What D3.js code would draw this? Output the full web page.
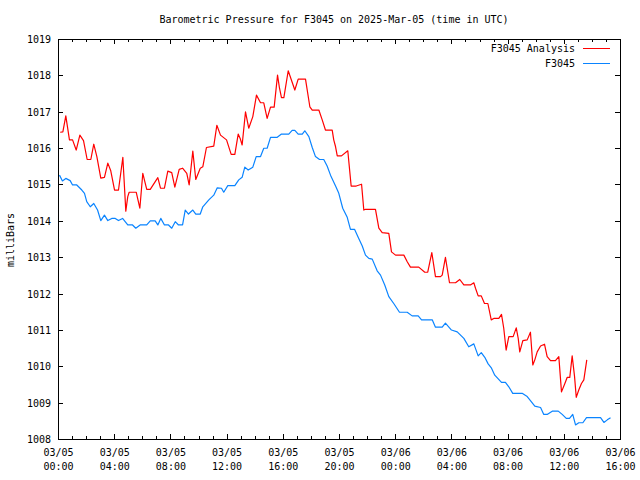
<!DOCTYPE html>
<html><head><meta charset="utf-8">
<script src="https://cdn.jsdelivr.net/npm/d3@7"></script>
<style>
html,body{margin:0;padding:0;background:#fff;}
svg{display:block;}
text{font-family:"DejaVu Sans Mono","Liberation Mono",monospace;font-size:10px;fill:#000;}
</style>
</head><body>
<svg id="chart" width="640" height="480"></svg>
<script>
const titleText = "Barometric Pressure for F3045 on 2025-Mar-05 (time in UTC)";
const yAxisLabel = "milliBars";
const seriesNames = ["F3045 Analysis", "F3045"];
const seriesColors = ["#ff0000", "#0a84ff"];
const startTime = Date.UTC(2025, 2, 5, 0, 0);
const endTime = Date.UTC(2025, 2, 6, 16, 0);
const yTickValues = [1008, 1009, 1010, 1011, 1012, 1013, 1014, 1015, 1016, 1017, 1018, 1019];

// hours since 2025-03-05 00:00 UTC
const analysisHours = [0.12,0.31,0.52,0.78,1.00,1.26,1.52,1.78,2.04,2.30,2.51,2.73,3.01,3.27,3.51,3.72,3.99,4.27,4.58,4.79,4.93,5.03,5.53,5.79,6.00,6.28,6.53,7.07,7.26,7.54,7.78,8.06,8.28,8.59,8.83,9.13,9.30,9.56,9.77,10.09,10.27,10.53,11.05,11.27,11.53,11.96,12.29,12.55,12.79,12.93,13.07,13.31,13.54,13.83,14.09,14.38,14.61,14.85,15.09,15.35,15.59,15.73,15.87,16.04,16.35,16.82,17.06,17.58,17.89,18.06,18.53,18.77,19.00,19.48,19.59,19.72,19.84,20.14,20.59,20.83,21.19,21.57,21.73,21.85,22.56,22.80,23.04,23.51,23.70,23.99,24.58,24.82,25.05,25.64,26.07,26.28,26.57,26.83,27.19,27.31,27.54,27.83,28.26,28.56,28.85,29.32,29.56,29.68,29.87,30.09,30.32,30.56,30.80,30.98,31.34,31.53,31.69,31.86,32.05,32.36,32.58,32.72,32.83,33.05,33.36,33.59,33.76,33.90,34.07,34.31,34.59,34.78,35.02,35.37,35.61,35.80,36.04,36.21,36.39,36.56,36.73,36.85,37.03,37.22,37.39,37.60];
const analysisValues = [1016.45,1016.46,1016.90,1016.24,1016.24,1015.96,1016.37,1016.22,1015.70,1015.70,1016.12,1015.78,1015.19,1015.21,1015.60,1015.39,1014.86,1014.86,1015.76,1014.28,1014.68,1014.80,1014.80,1014.36,1015.32,1014.88,1014.88,1015.20,1014.91,1014.91,1015.38,1015.34,1014.94,1015.43,1015.46,1015.32,1015.00,1015.93,1015.15,1015.46,1015.50,1016.03,1016.07,1016.64,1016.37,1016.24,1015.84,1015.84,1016.40,1016.28,1016.10,1017.01,1016.56,1016.88,1017.47,1017.26,1017.26,1016.83,1017.14,1017.14,1018.02,1017.66,1017.40,1017.40,1018.14,1017.61,1017.91,1017.91,1017.15,1017.06,1017.06,1016.79,1016.51,1016.51,1016.24,1016.05,1015.80,1015.80,1015.94,1014.97,1014.97,1015.02,1014.31,1014.33,1014.33,1013.81,1013.69,1013.67,1013.16,1013.07,1013.07,1012.89,1012.74,1012.74,1012.60,1012.60,1013.14,1012.48,1012.48,1012.52,1013.01,1012.31,1012.31,1012.40,1012.25,1012.25,1012.31,1012.16,1011.95,1011.95,1011.74,1011.74,1011.29,1011.33,1011.33,1011.44,1011.06,1010.46,1010.83,1010.83,1011.07,1010.78,1010.41,1010.72,1010.74,1010.95,1010.05,1010.19,1010.41,1010.57,1010.62,1010.28,1010.17,1010.17,1010.28,1009.31,1009.54,1009.71,1009.71,1010.30,1009.73,1009.16,1009.36,1009.54,1009.64,1010.19];

const stationHours = [0.07,0.28,0.52,0.83,1.00,1.30,1.66,1.85,2.01,2.26,2.51,2.78,3.01,3.27,3.51,3.79,4.04,4.27,4.56,4.93,5.27,5.50,5.81,6.28,6.53,6.88,7.07,7.28,7.54,7.83,8.06,8.31,8.54,8.83,9.02,9.25,9.56,9.77,10.09,10.27,10.70,11.05,11.30,11.60,11.76,12.05,12.55,12.83,13.07,13.26,13.50,13.83,14.07,14.38,14.61,14.85,15.09,15.57,15.87,16.39,16.63,16.82,17.06,17.35,17.53,17.82,18.06,18.29,18.58,18.88,19.12,19.36,19.72,19.95,20.23,20.55,20.78,21.07,21.37,21.62,21.85,22.09,22.33,22.68,22.92,23.22,23.51,23.86,24.27,24.82,25.17,25.60,25.84,26.60,26.83,27.31,27.54,27.97,28.38,28.85,29.20,29.56,29.87,30.09,30.34,30.58,30.82,31.05,31.53,31.81,32.05,32.33,33.00,33.36,33.59,33.90,34.31,34.54,34.78,35.14,35.57,35.85,36.14,36.37,36.60,36.80,37.03,37.32,37.58,38.58,38.82,39.06,39.29];
const stationValues = [1015.27,1015.11,1015.18,1015.12,1015.00,1015.00,1014.86,1014.77,1014.54,1014.40,1014.49,1014.31,1014.02,1014.17,1014.02,1014.08,1014.08,1014.02,1014.08,1013.90,1013.90,1013.81,1013.90,1013.90,1014.01,1014.01,1013.90,1014.08,1013.90,1013.90,1013.81,1013.99,1013.90,1013.90,1014.31,1014.20,1014.31,1014.20,1014.20,1014.40,1014.59,1014.72,1014.92,1014.91,1014.80,1014.98,1014.98,1015.14,1015.21,1015.49,1015.41,1015.49,1015.78,1015.78,1016.01,1016.01,1016.31,1016.31,1016.40,1016.40,1016.50,1016.50,1016.40,1016.40,1016.49,1016.33,1016.03,1015.78,1015.70,1015.70,1015.52,1015.27,1014.97,1014.77,1014.36,1014.11,1013.78,1013.78,1013.53,1013.32,1013.07,1012.98,1012.96,1012.64,1012.52,1012.25,1011.93,1011.74,1011.50,1011.50,1011.40,1011.40,1011.29,1011.29,1011.09,1011.09,1011.20,1011.01,1010.96,1010.78,1010.55,1010.63,1010.30,1010.39,1010.26,1010.08,1009.96,1009.77,1009.57,1009.57,1009.45,1009.27,1009.27,1009.18,1009.07,1008.92,1008.88,1008.69,1008.69,1008.78,1008.78,1008.69,1008.58,1008.58,1008.69,1008.40,1008.46,1008.46,1008.60,1008.60,1008.47,1008.54,1008.60];

(function () {
const svg = d3.select("#chart");
const plotLeft = 58, plotRight = 620, plotTop = 39, plotBottom = 439;

const x = d3.scaleUtc().domain([new Date(startTime), new Date(endTime)]).range([plotLeft, plotRight]);
const y = d3.scaleLinear().domain([1008, 1019]).range([plotBottom, plotTop]);

const toDate = h => new Date(startTime + h * 3600000);
const series = [
  analysisHours.map((h, i) => ({t: toDate(h), v: analysisValues[i]})),
  stationHours.map((h, i) => ({t: toDate(h), v: stationValues[i]}))
];

// Title
svg.append("text").attr("x", 334).attr("y", 23).attr("text-anchor", "middle").text(titleText);

// Y axis label
svg.append("text").attr("transform", "translate(14,240) rotate(-90)")
  .attr("text-anchor", "middle").text(yAxisLabel);

function styleAxis(g) {
  g.select(".domain").remove();
  g.selectAll("line").attr("stroke", "#000").attr("shape-rendering", "crispEdges");
  g.selectAll("text").remove();
}

const hourMinor = d3.utcHour.every(1);
const hourMajor = d3.utcHour.every(4);

svg.append("g").attr("transform", `translate(0,${plotBottom})`)
  .call(d3.axisBottom(x).ticks(hourMinor).tickSize(-3).tickSizeOuter(0)).call(styleAxis);
svg.append("g").attr("transform", `translate(0,${plotBottom})`)
  .call(d3.axisBottom(x).ticks(hourMajor).tickSize(-5).tickSizeOuter(0)).call(styleAxis);
svg.append("g").attr("transform", `translate(0,${plotTop})`)
  .call(d3.axisTop(x).ticks(hourMinor).tickSize(-3).tickSizeOuter(0)).call(styleAxis);
svg.append("g").attr("transform", `translate(0,${plotTop})`)
  .call(d3.axisTop(x).ticks(hourMajor).tickSize(-5).tickSizeOuter(0)).call(styleAxis);
svg.append("g").attr("transform", `translate(${plotLeft},0)`)
  .call(d3.axisLeft(y).tickValues(yTickValues).tickSize(-5).tickSizeOuter(0)).call(styleAxis);
svg.append("g").attr("transform", `translate(${plotRight},0)`)
  .call(d3.axisRight(y).tickValues(yTickValues).tickSize(-5).tickSizeOuter(0)).call(styleAxis);

const fmtDate = d3.utcFormat("%m/%d"), fmtTime = d3.utcFormat("%H:%M");
svg.append("g").selectAll("text").data(yTickValues).join("text")
  .attr("x", plotLeft - 7).attr("y", d => y(d) + 0.5).attr("dy", "0.35em")
  .attr("text-anchor", "end").text(d => d);

const xTickDates = x.ticks(hourMajor);
const xl = svg.append("g").selectAll("text").data(xTickDates).join("text")
  .attr("text-anchor", "middle");
xl.append("tspan").attr("x", d => x(d) + 0.5).attr("y", plotBottom + 17).text(d => fmtDate(d));
xl.append("tspan").attr("x", d => x(d) + 0.5).attr("y", plotBottom + 31).text(d => fmtTime(d));

svg.append("rect").attr("x", plotLeft + 0.5).attr("y", plotTop + 0.5)
  .attr("width", plotRight - plotLeft).attr("height", plotBottom - plotTop)
  .attr("fill", "none").attr("stroke", "#000").attr("shape-rendering", "crispEdges");

const line = d3.line().x(d => x(d.t) + 0.5).y(d => y(d.v) + 0.5);
series.forEach((s, i) => {
  svg.append("path").datum(s).attr("d", line)
    .attr("fill", "none").attr("stroke", seriesColors[i]).attr("stroke-width", 1.2)
    .attr("stroke-linejoin", "round");
});

seriesNames.forEach((name, i) => {
  const ly = 48 + i * 15;
  svg.append("text").attr("x", 575).attr("y", ly).attr("dy", "0.35em")
    .attr("text-anchor", "end").text(name);
  svg.append("line").attr("x1", 583).attr("x2", 610).attr("y1", ly + 0.5).attr("y2", ly + 0.5)
    .attr("stroke", seriesColors[i]).attr("stroke-width", 1).attr("shape-rendering", "crispEdges");
});
})();
</script>
</body></html>
